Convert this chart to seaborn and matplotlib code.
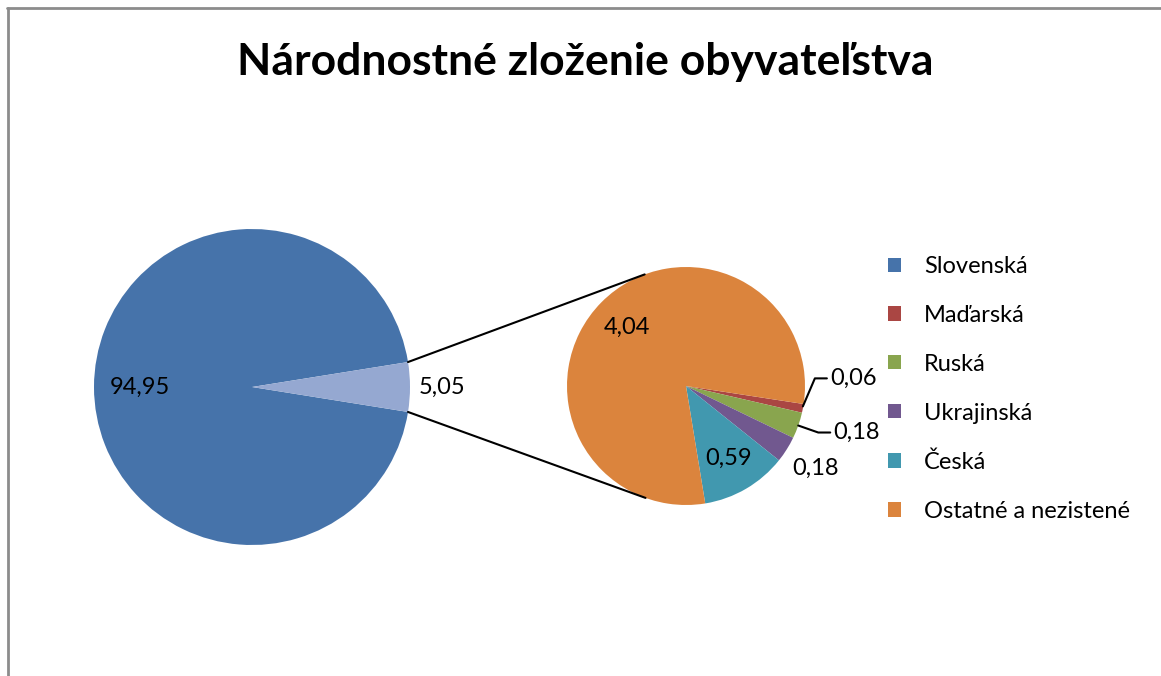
import numpy as np
import matplotlib
matplotlib.use("Agg")
import matplotlib.pyplot as plt
from matplotlib.patches import Patch
from matplotlib.lines import Line2D
import seaborn as sns

# Dáta - národnostné zloženie (%)
hlavny_kategorie = ["Slovenská", "Ostatné spolu"]
hlavny_hodnoty = [94.95, 5.05]

detail_kategorie = ["Maďarská", "Ruská", "Ukrajinská", "Česká", "Ostatné a nezistené"]
detail_hodnoty = [0.06, 0.18, 0.18, 0.59, 4.04]

legenda = ["Slovenská", "Maďarská", "Ruská", "Ukrajinská", "Česká", "Ostatné a nezistené"]

sns.set_theme(style="white")
plt.rcParams['font.family'] = ['Lato', 'DejaVu Sans']
plt.rcParams['text.color'] = 'black'

farby = sns.color_palette(["#4673AA", "#AA4643", "#89A54E", "#71588F", "#4198AF", "#DB843D"])
farba_spolu = "#95A8D1"
fs = 17

def fmt(v):
    return f"{v:.2f}".replace('.', ',')

fig = plt.figure(figsize=(11.61, 6.76), dpi=100)
ax = fig.add_axes([0, 0, 1, 1])

# hlavný koláč
c1 = (252, 289)
r1 = 158
pol = 360 * hlavny_hodnoty[1] / sum(hlavny_hodnoty) / 2
w1, _ = ax.pie(hlavny_hodnoty, colors=[farby[0], farba_spolu], startangle=pol,
               center=c1, radius=r1, wedgeprops=dict(linewidth=0), frame=True)

for w, v, d in zip(w1, hlavny_hodnoty, [0.71, 1.20]):
    a = np.deg2rad((w.theta1 + w.theta2) / 2)
    ax.text(c1[0] + d * r1 * np.cos(a), c1[1] + d * r1 * np.sin(a), fmt(v),
            ha='center', va='center', fontsize=fs, color='black')

# druhý koláč
c2 = (686, 290)
r2 = 119
w2, _ = ax.pie(detail_hodnoty, colors=farby[1:], startangle=-8.7, counterclock=False,
               center=c2, radius=r2, wedgeprops=dict(linewidth=0), frame=True)
ax.set_xlim(0, 1161)
ax.set_ylim(0, 676)
ax.set_aspect('equal')
ax.axis('off')

for i, (w, v) in enumerate(zip(w2, detail_hodnoty)):
    a = np.deg2rad((w.theta1 + w.theta2) / 2)
    ex, ey = c2[0] + r2 * np.cos(a), c2[1] + r2 * np.sin(a)
    if i == 0:
        ax.plot([ex, ex + 12, ex + 24], [ey + 2, ey + 30, ey + 30], color='black', lw=1.5)
        ax.text(ex + 27, ey + 30, fmt(v), ha='left', va='center', fontsize=fs)
    elif i == 1:
        ax.plot([ex, ex + 20, ex + 32], [ey, ey - 7, ey - 7], color='black', lw=1.5)
        ax.text(ex + 35, ey - 7, fmt(v), ha='left', va='center', fontsize=fs)
    elif i == 2:
        ax.text(c2[0] + 1.29 * r2 * np.cos(a), c2[1] + 1.29 * r2 * np.sin(a), fmt(v),
                ha='center', va='center', fontsize=fs)
    else:
        ax.text(c2[0] + 0.70 * r2 * np.cos(a), c2[1] + 0.70 * r2 * np.sin(a), fmt(v),
                ha='center', va='center', fontsize=fs)

# spojovacie čiary (dotyčnice k druhému koláču)
for s in (1, -1):
    px = c1[0] + r1 * np.cos(np.deg2rad(pol))
    py = c1[1] + s * r1 * np.sin(np.deg2rad(pol))
    dx, dy = px - c2[0], py - c2[1]
    d = np.hypot(dx, dy)
    smer = np.arctan2(dy, dx)
    t = smer - s * np.arccos(r2 / d)
    ax.plot([px, c2[0] + r2 * np.cos(t)], [py, c2[1] + r2 * np.sin(t)], color='black', lw=1.5)

# legenda
handles = [Patch(facecolor=f, edgecolor='none') for f in farby]
fig.legend(handles, legenda, loc='upper left', bbox_to_anchor=(888 / 1161, 1 - 256 / 676),
           frameon=False, fontsize=fs, handlelength=0.55, handleheight=0.55,
           handletextpad=0.98, labelspacing=1.18, borderpad=0, borderaxespad=0,
           labelcolor='black')

# nadpis
fig.text(585 / 1161, 1 - 62 / 676, "Národnostné zloženie obyvateľstva",
         ha='center', va='center', fontsize=32, fontweight='bold', color='black')

# rámček
fig.add_artist(Line2D([7 / 1161, 1], [1 - 8 / 676, 1 - 8 / 676], color='#8c8c8c', lw=2))
fig.add_artist(Line2D([8 / 1161, 8 / 1161], [0, 1 - 8 / 676], color='#8c8c8c', lw=2))

fig.savefig('out.png', dpi=100)
